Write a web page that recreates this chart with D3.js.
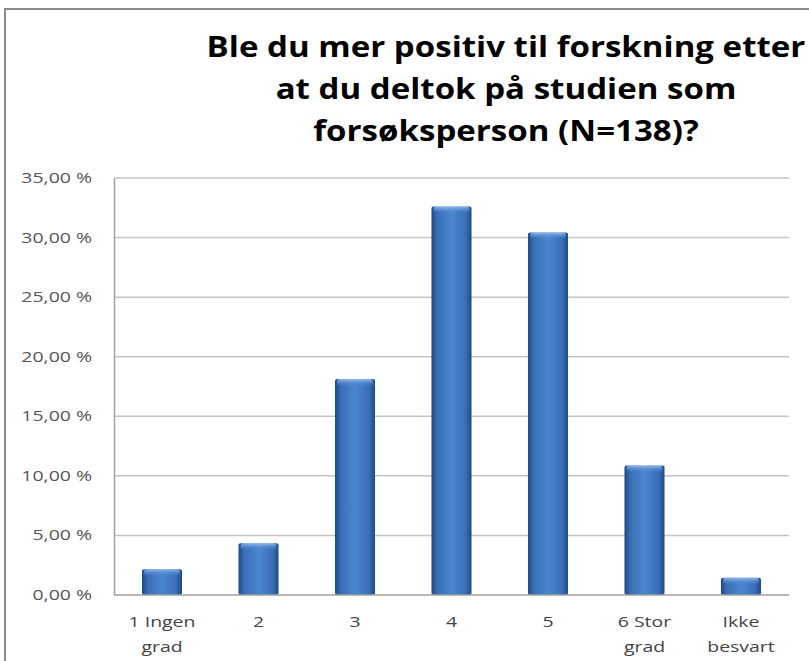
<!DOCTYPE html>
<html>
<head>
<meta charset="utf-8">
<script src="https://cdn.jsdelivr.net/npm/d3@7"></script>
<style>
  body { margin: 0; background: #fff; }
  svg { display: block; }
</style>
</head>
<body>
<div id="chart"></div>
<script>
// chart data
const categories = ["1 Ingen grad", "2", "3", "4", "5", "6 Stor grad", "Ikke besvart"];
const categoryLines = [["1 Ingen", "grad"], ["2"], ["3"], ["4"], ["5"], ["6 Stor", "grad"], ["Ikke", "besvart"]];
const percentValues = [2.17, 4.35, 18.12, 32.61, 30.43, 10.87, 1.45];
const yTicks = [0, 5, 10, 15, 20, 25, 30, 35];
const titleLines = ["Ble du mer positiv til forskning etter", "at du deltok på studien som", "forsøksperson (N=138)?"];

const W = 809, H = 661;
const margin = { top: 178, right: 20, bottom: 66, left: 114 };
const width = W - margin.left - margin.right;
const height = H - margin.top - margin.bottom;

// the original picture is stretched sideways, so text is widened too
const stretch = 1.39;

const svg = d3.select("#chart").append("svg")
    .attr("width", W)
    .attr("height", H);

// bar gradient (cylinder look)
const defs = svg.append("defs");
const grad = defs.append("linearGradient")
    .attr("id", "barGrad")
    .attr("x1", "0%").attr("x2", "100%")
    .attr("y1", "0%").attr("y2", "0%");
grad.append("stop").attr("offset", "0%").attr("stop-color", "#1f4a85");
grad.append("stop").attr("offset", "15%").attr("stop-color", "#3a6fb6");
grad.append("stop").attr("offset", "50%").attr("stop-color", "#4a86d0");
grad.append("stop").attr("offset", "85%").attr("stop-color", "#3a6fb6");
grad.append("stop").attr("offset", "100%").attr("stop-color", "#1f4a85");

const topGrad = defs.append("linearGradient")
    .attr("id", "topGrad")
    .attr("x1", "0%").attr("x2", "0%")
    .attr("y1", "0%").attr("y2", "100%");
topGrad.append("stop").attr("offset", "0%").attr("stop-color", "#9cc0ee").attr("stop-opacity", 0.9);
topGrad.append("stop").attr("offset", "100%").attr("stop-color", "#4a86d0").attr("stop-opacity", 0);

// outer frame
svg.append("rect")
    .attr("x", 5).attr("y", 9)
    .attr("width", W + 20).attr("height", H + 20)
    .attr("fill", "none")
    .attr("stroke", "#8a8a8a")
    .attr("stroke-width", 2);

// title
const title = svg.append("g")
    .attr("class", "title");

const titleText = title.append("text")
    .attr("text-anchor", "middle")
    .attr("font-family", "'Open Sans', sans-serif")
    .attr("font-weight", "bold")
    .attr("font-size", 28)
    .attr("fill", "#000");

titleText.selectAll("tspan")
    .data(titleLines)
    .enter().append("tspan")
    .attr("x", 0)
    .attr("y", (d, i) => i * 42)
    .text(d => d);

// widen the title so the first line fills its width like in the picture
let firstLen = titleText.select("tspan").node().getComputedTextLength();
let titleScale = 599 / firstLen;
title.attr("transform", "translate(506,57) scale(" + titleScale + ",1)");

const g = svg.append("g")
    .attr("transform", "translate(" + margin.left + "," + margin.top + ")");

// scales
const x = d3.scaleBand()
    .domain(categories)
    .range([0, width])
    .paddingInner(0.585)
    .paddingOuter(0.29);

const y = d3.scaleLinear()
    .domain([0, 35])
    .range([height, 0]);

// gridlines
g.append("g")
    .attr("class", "grid")
    .selectAll("line")
    .data(yTicks.filter(t => t > 0))
    .enter().append("line")
    .attr("x1", 0).attr("x2", width)
    .attr("y1", d => y(d)).attr("y2", d => y(d))
    .attr("stroke", "#c4c4c4")
    .attr("stroke-width", 1.5);

// y axis
const yAxis = d3.axisLeft(y)
    .tickValues(yTicks)
    .tickSize(0)
    .tickFormat(d => d3.format(".2f")(d).replace(".", ",") + " %");

g.append("g")
    .attr("class", "y-axis")
    .call(yAxis)
    .call(s => s.select(".domain").attr("stroke", "#a0a0a0").attr("stroke-width", 1.5))
    .selectAll("text")
    .attr("x", 0)
    .attr("transform", "translate(-22,0) scale(" + stretch + ",1)")
    .attr("font-family", "'Open Sans', sans-serif")
    .attr("font-size", 14)
    .attr("fill", "#555");

// bars
const bars = g.selectAll(".bar")
    .data(percentValues)
    .enter().append("g")
    .attr("class", "bar");

bars.append("rect")
    .attr("x", (d, i) => x(categories[i]))
    .attr("y", d => y(d))
    .attr("width", x.bandwidth())
    .attr("height", d => height - y(d))
    .attr("rx", 2)
    .attr("fill", "url(#barGrad)");

bars.append("rect")
    .attr("x", (d, i) => x(categories[i]) + 2)
    .attr("y", d => y(d))
    .attr("width", x.bandwidth() - 4)
    .attr("height", d => Math.min(7, height - y(d)))
    .attr("rx", 3)
    .attr("fill", "url(#topGrad)");

// x axis
g.append("line")
    .attr("x1", 0).attr("x2", width)
    .attr("y1", height).attr("y2", height)
    .attr("stroke", "#a0a0a0")
    .attr("stroke-width", 1.5);

const xLabels = g.append("g")
    .attr("class", "x-axis")
    .selectAll("text")
    .data(categories)
    .enter().append("text")
    .attr("text-anchor", "middle")
    .attr("font-family", "'Open Sans', sans-serif")
    .attr("font-size", 14)
    .attr("fill", "#444")
    .attr("transform", d => "translate(" + (x(d) + x.bandwidth() / 2) + "," + (height + 32) + ") scale(" + stretch + ",1)");

xLabels.selectAll("tspan")
    .data((d, i) => categoryLines[i])
    .enter().append("tspan")
    .attr("x", 0)
    .attr("y", (d, i) => i * 25)
    .text(d => d);
</script>
</body>
</html>
